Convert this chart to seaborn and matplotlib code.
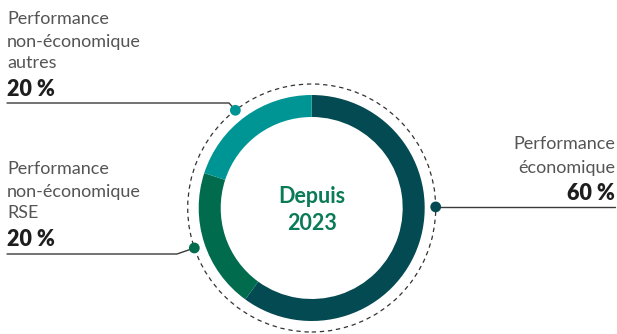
import numpy as np
import pandas as pd
import matplotlib.pyplot as plt
import seaborn as sns
from matplotlib.patches import Circle

# données
segments = ['Performance économique', 'Performance non-économique RSE', 'Performance non-économique autres']
parts = [60, 20, 20]
couleurs = ['#034a52', '#006b4d', '#009595']
etiquettes = [['Performance', 'économique'],
              ['Performance', 'non-économique', 'RSE'],
              ['Performance', 'non-économique', 'autres']]
valeurs_txt = ['60 %', '20 %', '20 %']
centre_txt = ['Depuis', '2023']

W, H = 617, 334
sns.set_style('white')
plt.rcParams['font.family'] = ['Lato', 'DejaVu Sans']

fig = plt.figure(figsize=(W / 100, H / 100), dpi=100)
ax = fig.add_axes([0, 0, 1, 1])

cx, cy = 311.7, H - 208
r_out, larg = 113, 22
ax.pie(parts, colors=couleurs, startangle=90, counterclock=False,
       center=(cx, cy), radius=r_out,
       wedgeprops=dict(width=larg, linewidth=0))
ax.add_patch(Circle((cx, cy), 124, fill=False, ls=(0, (3.5, 3)), lw=0.9, ec='#333333'))

for txt, yb in zip(centre_txt, [203, 230]):
    ax.text(cx, H - yb, txt, ha='center', va='baseline', fontsize=15.5,
            fontweight='bold', color='#0b7a57')

# points d'attache et traits
ang = {0: 0.5, 1: 198.8, 2: 128}
pts = []
for i, a in ang.items():
    t = np.deg2rad(a)
    pts.append((cx + 124 * np.cos(t), cy + 124 * np.sin(t), couleurs[i]))
df = pd.DataFrame(pts, columns=['x', 'y', 'c'])

ligne = '#3a3a3a'
ax.plot([df.x[0], 615], [df.y[0], df.y[0]], color=ligne, lw=1)
ax.plot([7, 177, df.x[1]], [H - 254, H - 254, df.y[1]], color=ligne, lw=1)
ax.plot([7, 229, df.x[2]], [H - 103, H - 103, df.y[2]], color=ligne, lw=1)
sns.scatterplot(data=df, x='x', y='y', hue='c', palette=dict(zip(df.c, df.c)),
                s=60, edgecolor='none', legend=False, ax=ax, zorder=5)

gris = '#555555'
noir = '#1e1e1e'
fs = 13


def bloc(x, ha, lignes, bases, val, base_val):
    for txt, yb in zip(lignes, bases):
        ax.text(x, H - yb, txt, ha=ha, va='baseline', fontsize=fs, color=gris)
    ax.text(x, H - base_val, val, ha=ha, va='baseline', fontsize=15.5,
            fontweight='heavy', color=noir)


bloc(615, 'right', etiquettes[0], [149, 173], valeurs_txt[0], 200)
bloc(7, 'left', etiquettes[1], [174, 196.5, 218.5], valeurs_txt[1], 246.5)
bloc(7, 'left', etiquettes[2], [24, 46.5, 68.5], valeurs_txt[2], 96)

ax.set_xlim(0, W)
ax.set_ylim(0, H)
ax.set_aspect('auto')
ax.axis('off')
fig.savefig('out.png', dpi=100)
